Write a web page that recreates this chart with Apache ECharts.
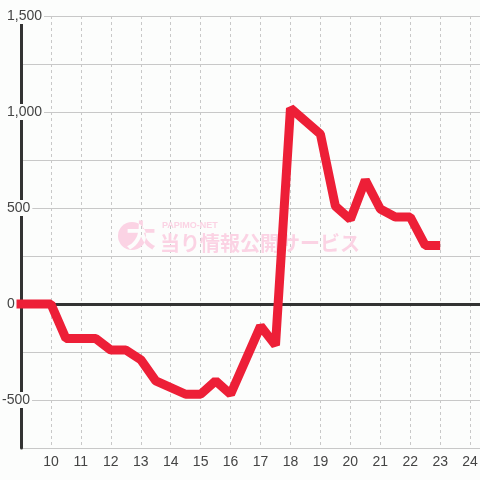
<!DOCTYPE html>
<html>
<head>
<meta charset="utf-8">
<script src="https://cdn.jsdelivr.net/npm/echarts@6/dist/echarts.min.js"></script>
<style>
html, body { margin: 0; padding: 0; background: #fcfdfc; }
#chart { width: 480px; height: 480px; }
</style>
</head>
<body>
<div id="chart"></div>
<script>
// 時刻（時）
var hours = [8.85, 10, 10.5, 11.5, 12, 12.5, 13, 13.5, 14.5, 15, 15.5, 16, 17, 17.5, 18, 19, 19.5, 20, 20.5, 21, 21.5, 22, 22.5, 23];
// 差枚数
var diffs = [0, 0, -180, -180, -240, -240, -290, -400, -470, -470, -400, -470, -115, -215, 1020, 885, 510, 440, 645, 495, 453, 453, 305, 305];
var hourLabels = [10, 11, 12, 13, 14, 15, 16, 17, 18, 19, 20, 21, 22, 23, 24];
var yLabels = [-500, 0, 500, 1000, 1500];

function fmtNum(v) {
	return String(v).replace(/\B(?=(\d{3})+(?!\d))/g, ',');
}

var points = [];
for (var i = 0; i < hours.length; i++) {
	points.push([hours[i], diffs[i]]);
}

var font = "'Liberation Sans', Arial, sans-serif";
var pink = '#fbd3e4';
var dom = document.getElementById('chart');
var myChart = echarts.init(dom, null, { renderer: 'canvas' });

var xMin = 9, xMax = 24.33;

var option = {
	backgroundColor: '#fcfdfc',
	animation: false,
	grid: { left: 21, right: 0, top: 16, bottom: 32, outerBoundsMode: 'none' },
	xAxis: [{
		type: 'value',
		position: 'bottom',
		min: xMin,
		max: xMax,
		interval: 1,
		axisLine: { onZero: true, lineStyle: { color: '#333', width: 3 } },
		axisTick: { show: false },
		axisLabel: { show: false },
		splitLine: { show: true, lineStyle: { color: '#c8c8c8', type: [3, 3], width: 1 } }
	}, {
		type: 'value',
		position: 'bottom',
		min: xMin,
		max: xMax,
		interval: 1,
		axisLine: { show: false, onZero: false },
		axisTick: { show: false },
		splitLine: { show: false },
		axisLabel: {
			margin: 7,
			color: '#444',
			fontSize: 14,
			fontFamily: font,
			formatter: function (v) {
				return hourLabels.indexOf(v) != -1 ? String(v) : '';
			}
		}
	}],
	yAxis: [{
		type: 'value',
		position: 'left',
		min: -750,
		max: 1500,
		interval: 250,
		z: 0,
		axisLine: { show: false },
		axisTick: { show: false },
		axisLabel: { show: false },
		splitLine: { show: true, lineStyle: { color: '#c8c8c8', width: 1 } }
	}, {
		type: 'value',
		position: 'left',
		min: -750,
		max: 1500,
		interval: 250,
		z: 1,
		axisLine: { show: true, onZero: false, lineStyle: { color: '#333', width: 3 } },
		axisTick: { show: false },
		splitLine: { show: false },
		axisLabel: {
			// 左寄せ（マイナス記号だけ左にはみ出す）
			margin: 21,
			align: 'left',
			formatter: function (v) {
				if (yLabels.indexOf(v) == -1) return '';
				if (v < 0) return '{n|' + fmtNum(v) + '}';
				return '{s| }{n|' + fmtNum(v) + '}';
			},
			rich: {
				n: {
					color: '#444',
					fontSize: 14,
					fontFamily: font,
					backgroundColor: '#fcfdfc',
					padding: [1, 2, 1, 2]
				},
				s: { width: 5, fontSize: 14 }
			}
		}
	}],
	// ウォーターマーク（別レイヤー）
	graphic: [{
		type: 'group',
		left: 118,
		top: 220,
		zlevel: 1,
		children: [{
			type: 'text',
			x: 8,
			y: 1,
			zlevel: 1,
			style: {
				text: '大',
				fill: pink,
				font: 'bold 30px "Noto Sans CJK JP"'
			}
		}, {
			type: 'circle',
			zlevel: 1,
			shape: { cx: 14, cy: 17, r: 14 },
			style: { fill: pink, blend: 'xor' }
		}, {
			type: 'text',
			x: 44,
			y: 2,
			zlevel: 1,
			style: {
				text: 'PAPIMO-NET',
				fill: pink,
				font: 'bold 9px ' + font
			}
		}, {
			type: 'text',
			x: 42,
			y: 14,
			zlevel: 1,
			style: {
				text: '当り情報公開サービス',
				fill: pink,
				font: 'bold 20px "Noto Sans CJK JP"'
			}
		}]
	}],
	series: [{
		name: '差枚数',
		type: 'line',
		xAxisIndex: 0,
		yAxisIndex: 0,
		data: points,
		showSymbol: false,
		symbol: 'none',
		clip: false,
		zlevel: 2,
		lineStyle: { color: '#ed1f37', width: 9 }
	}]
};

if (option && typeof option === "object") {
	myChart.setOption(option, true);
}
</script>
</body>
</html>
